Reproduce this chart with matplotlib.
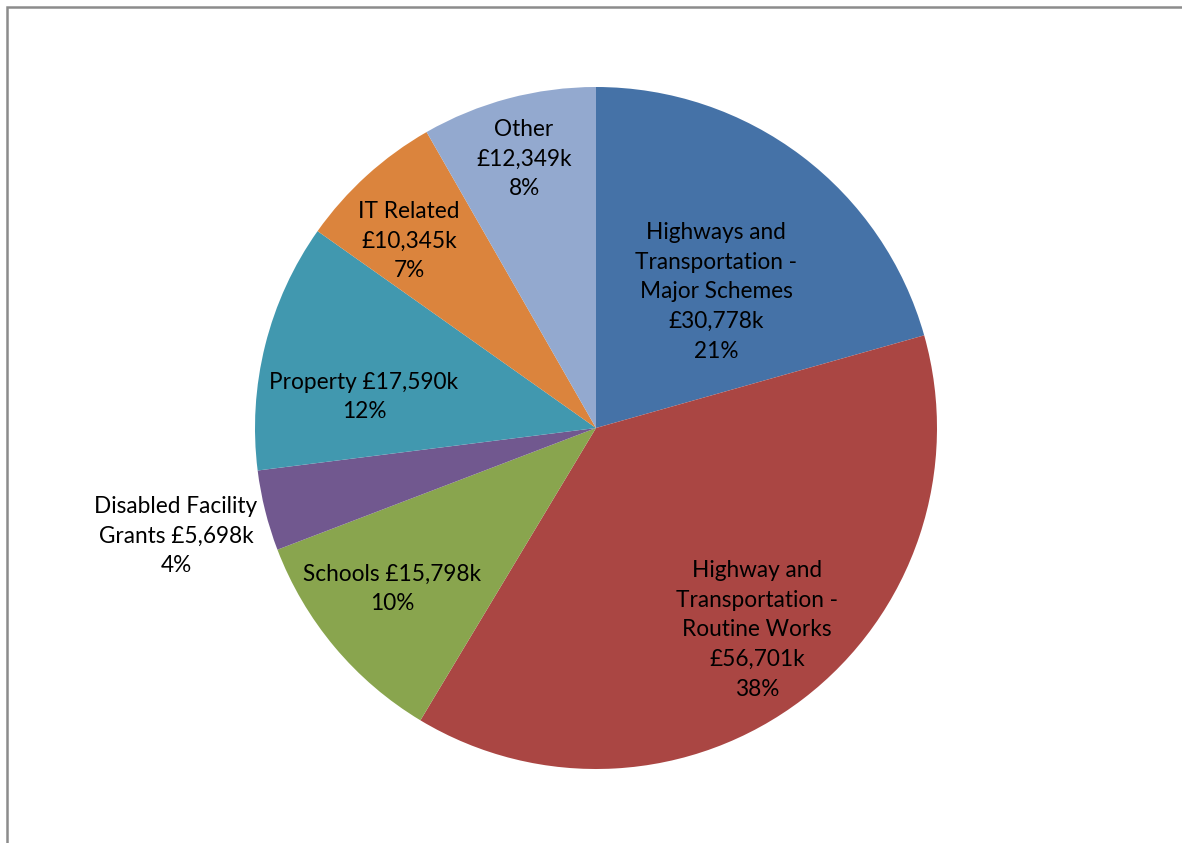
import matplotlib
matplotlib.use('Agg')
import matplotlib.pyplot as plt
from matplotlib.patches import Rectangle

categories = [
    'Highways and\nTransportation -\nMajor Schemes',
    'Highway and\nTransportation -\nRoutine Works',
    'Schools',
    'Disabled Facility\nGrants',
    'Property',
    'IT Related',
    'Other',
]
values_k = [30778, 56701, 15798, 5698, 17590, 10345, 12349]
percent_labels = ['21%', '38%', '10%', '4%', '12%', '7%', '8%']
# how each label joins the name and the amount
joiners = ['\n', '\n', ' ', ' ', ' ', '\n', '\n']

colors = ['#4572A7', '#AA4643', '#89A54E', '#71588F', '#4198AF', '#DB843D', '#93A9CF']

# label centres in pixels from top-left
label_pos = [(716, 292), (757, 630), (392, 589), (176, 536), (364, 397), (409, 241), (524, 159)]

W, H = 1182, 843
fig = plt.figure(figsize=(W / 100, H / 100), dpi=100)
ax = fig.add_axes([0, 0, 1, 1])

ax.pie(values_k, colors=colors, startangle=90, counterclock=False,
       center=(596, H - 428), radius=341, frame=True,
       wedgeprops=dict(linewidth=0))
ax.set_xlim(0, W)
ax.set_ylim(0, H)
ax.set_aspect('auto')
ax.axis('off')

for name, val, pct, j, (px, py) in zip(categories, values_k, percent_labels, joiners, label_pos):
    txt = name + j + '£{:,}k'.format(val) + '\n' + pct
    ax.text(px, H - py, txt, ha='center', va='center', fontsize=16.3,
            family='Lato', color='black', linespacing=1.52, multialignment='center')

# frame (only top and left visible in the crop)
ax.add_patch(Rectangle((7, -20), W + 40, H - 7 + 20, fill=False,
                       edgecolor='#8c8c8c', linewidth=1.8, clip_on=False))

fig.savefig('out.png', dpi=100)
